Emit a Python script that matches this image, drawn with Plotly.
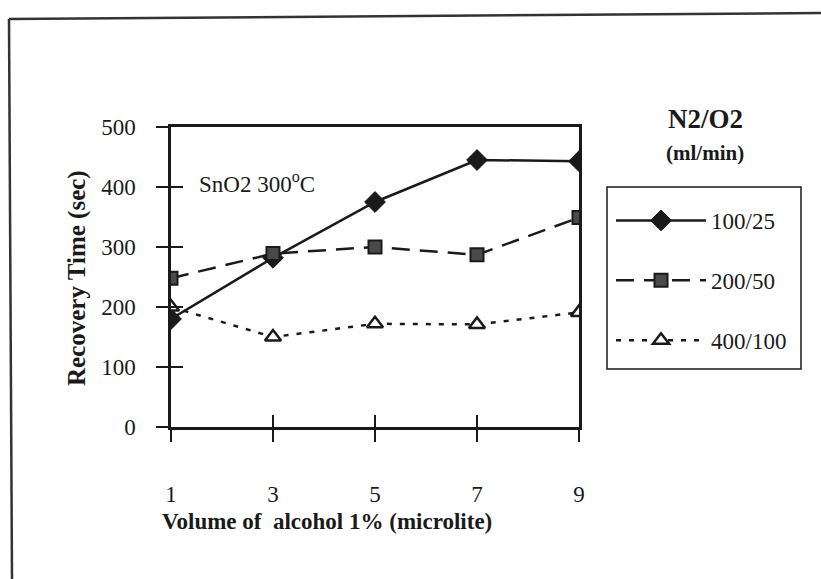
import plotly.graph_objects as go

W, H = 821, 579

volume = [1, 3, 5, 7, 9]
series_names = ["100/25", "200/50", "400/100"]
rt_100_25 = [180, 282, 375, 445, 443]
rt_200_50 = [248, 289, 300, 287, 349]
rt_400_100 = [200, 150, 172, 171, 191]
y_ticks = [0, 100, 200, 300, 400, 500]

FONT = "Liberation Serif, Times New Roman, serif"
INK = "#1a1a1a"

# plot-area box in pixels
PL, PR, PT, PB = 171, 579, 127, 427


def px(X, Y):
    """pixel position -> paper coordinates (relative to plot area)"""
    return (X - PL) / (PR - PL), (PB - Y) / (PB - PT)


fig = go.Figure()

fig.add_trace(go.Scatter(
    x=volume, y=rt_100_25, name=series_names[0], mode="lines+markers",
    line=dict(color=INK, width=2.5, dash="solid"),
    marker=dict(symbol="diamond", size=16, color=INK, line=dict(color=INK, width=1)),
    legendgroup="a",
))
fig.add_trace(go.Scatter(
    x=volume, y=rt_200_50, name=series_names[1], mode="lines+markers",
    line=dict(color=INK, width=2.5, dash="18px,10px"),
    marker=dict(symbol="square", size=13, color="#4a4a4a", line=dict(color=INK, width=2)),
    legendgroup="b",
))
fig.add_trace(go.Scatter(
    x=volume, y=rt_400_100, name=series_names[2], mode="lines+markers",
    line=dict(color=INK, width=2.5, dash="5px,8px"),
    marker=dict(symbol="triangle-up", size=14, color="white", line=dict(color=INK, width=2.5)),
    legendgroup="c", xaxis="x2", yaxis="y2",
))

axis_font = dict(family=FONT, size=23, color=INK)

lx, ly = px(611, 199)

fig.update_layout(
    width=W, height=H,
    margin=dict(l=PL, r=W - PR, t=PT, b=H - PB, pad=0),
    paper_bgcolor="white", plot_bgcolor="white",
    font=dict(family=FONT, color=INK),
    xaxis=dict(
        range=[1, 9], tickvals=volume, ticktext=[str(v) for v in volume],
        showgrid=False, zeroline=False, showline=True, linecolor=INK, linewidth=2.5,
        mirror=True, ticks="outside", ticklen=12, tickwidth=1.5, tickcolor=INK,
        tickfont=axis_font, ticklabelstandoff=33,
    ),
    yaxis=dict(
        range=[0, 500], tickvals=y_ticks,
        showgrid=False, zeroline=False, showline=True, linecolor=INK, linewidth=2.5,
        mirror=True, ticks="outside", ticklen=12, tickwidth=1.5, tickcolor=INK,
        tickfont=axis_font, ticklabelstandoff=16,
    ),
    xaxis2=dict(
        range=[1, 9], tickvals=volume, overlaying="x", side="bottom",
        showgrid=False, zeroline=False, showline=False, showticklabels=False,
        ticks="inside", ticklen=12, tickwidth=1.5, tickcolor=INK,
    ),
    yaxis2=dict(
        range=[0, 500], tickvals=y_ticks, overlaying="y", side="left",
        showgrid=False, zeroline=False, showline=False, showticklabels=False,
        ticks="inside", ticklen=12, tickwidth=1.5, tickcolor=INK,
    ),
    showlegend=True,
    legend=dict(
        x=lx, xanchor="left", y=ly, yanchor="top",
        borderwidth=0, bgcolor="rgba(0,0,0,0)",
        font=dict(family=FONT, size=23, color=INK),
        itemwidth=90, tracegroupgap=27, traceorder="grouped",
    ),
)

# legend frame
bx0, by0 = px(607, 187)
bx1, by1 = px(801, 369)
fig.add_shape(type="rect", xref="paper", yref="paper", layer="below",
              x0=bx0, y0=by0, x1=bx1, y1=by1,
              line=dict(color=INK, width=1.5), fillcolor="white")

# outer page frame (top and left edges)
x0, y0 = px(9, 19)
x1, y1 = px(821, 13)
x2, y2 = px(12, 579)
fig.add_shape(type="line", xref="paper", yref="paper",
              x0=x0, y0=y0, x1=x1, y1=y1, line=dict(color="#333", width=2.5))
fig.add_shape(type="line", xref="paper", yref="paper",
              x0=x0, y0=y0, x1=x2, y1=y2, line=dict(color="#333", width=2.5))


def note(X, Y, text, size, anchor="center", angle=0):
    ax, ay = px(X, Y)
    fig.add_annotation(xref="paper", yref="paper", x=ax, y=ay,
                       xanchor=anchor, yanchor="middle", showarrow=False,
                       text=text, textangle=angle,
                       font=dict(family=FONT, size=size, color=INK))


note(197, 182, "SnO2 300<sup>o</sup>C", 23, anchor="left")
note(705, 119, "<b>N2/O2</b>", 27)
note(705, 153, "<b>(ml/min)</b>", 21)
note(327, 521, "<b>Volume of&nbsp; alcohol 1% (microlite)</b>", 23)
note(77, 278, "<b>Recovery Time (sec)</b>", 25, angle=-90)

fig.write_html("out.html")
